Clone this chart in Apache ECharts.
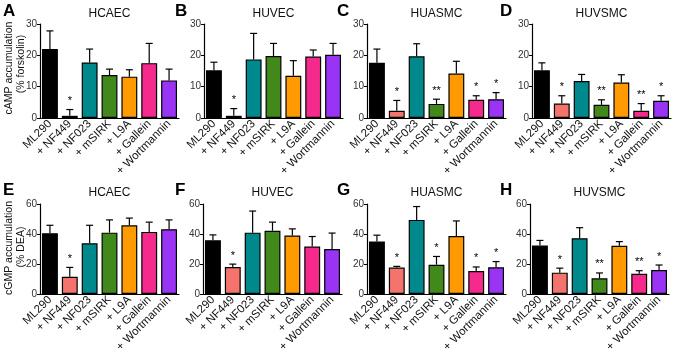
<!DOCTYPE html>
<html lang="en">
<head>
<meta charset="UTF-8">
<title>cAMP / cGMP accumulation</title>
<script src="https://cdn.jsdelivr.net/npm/echarts@6/dist/echarts.min.js"></script>
<style>
  html, body { margin: 0; padding: 0; background: #fff; }
</style>
</head>
<body>
<div id="main" style="width: 675px; height: 355px;"></div>
<script>
    // categories and bar colours
    var treatments = ['ML290', '+ NF449', '+ NF023', '+ mSIRK', '+ L9A', '+ Gallein', '+ Wortmannin'];
    var barColors = ['#000000', '#f4736d', '#00898c', '#41891a', '#ff9a00', '#f52a8c', '#9a34f5'];

    // cAMP (% forskolin) - mean, error, significance
    var aMean = [22.0, 0.7, 17.7, 13.7, 13.2, 17.5, 12.0];
    var aErr = [5.8, 2.0, 4.3, 1.9, 2.2, 6.3, 3.6];
    var aSig = ['', '*', '', '', '', '', ''];

    var bMean = [15.2, 0.7, 18.7, 19.8, 13.5, 19.6, 20.2];
    var bErr = [2.6, 2.3, 8.3, 4.0, 4.8, 2.1, 3.6];
    var bSig = ['', '*', '', '', '', '', ''];

    var cMean = [17.6, 2.3, 19.7, 4.5, 14.2, 5.8, 6.0];
    var cErr = [4.4, 3.3, 4.0, 1.5, 3.9, 1.3, 2.1];
    var cSig = ['', '*', '', '**', '', '*', '*'];

    var dMean = [15.2, 4.6, 11.8, 4.2, 11.3, 2.3, 5.5];
    var dErr = [2.4, 2.5, 2.1, 1.6, 2.5, 2.3, 1.6];
    var dSig = ['', '*', '', '**', '', '**', '*'];

    // cGMP (% DEA)
    var eMean = [40.5, 11.4, 33.8, 40.9, 45.8, 41.4, 43.2];
    var eErr = [5.3, 6.3, 12.0, 8.5, 4.8, 6.5, 6.2];
    var eSig = ['', '*', '', '', '', '', ''];

    var fMean = [35.8, 18.0, 40.9, 42.2, 39.0, 31.6, 29.9];
    var fErr = [3.6, 1.9, 14.4, 5.7, 4.4, 6.7, 10.7];
    var fSig = ['', '*', '', '', '', '', ''];

    var gMean = [35.0, 17.6, 49.4, 19.5, 38.6, 15.3, 17.8];
    var gErr = [4.2, 0.8, 8.9, 5.5, 10.1, 2.7, 3.8];
    var gSig = ['', '*', '', '*', '', '*', '*'];

    var hMean = [32.3, 14.2, 37.2, 10.4, 32.1, 13.4, 15.9];
    var hErr = [3.4, 3.0, 7.0, 3.6, 2.8, 2.1, 3.4];
    var hSig = ['', '*', '', '**', '', '**', '*'];

    var cellNames = ['HCAEC', 'HUVEC', 'HUASMC', 'HUVSMC', 'HCAEC', 'HUVEC', 'HUASMC', 'HUVSMC'];
    var panelLetters = ['A', 'B', 'C', 'D', 'E', 'F', 'G', 'H'];
    var yMaxTop = 30, yStepTop = 10;
    var yMaxBottom = 60, yStepBottom = 20;

    var means = [aMean, bMean, cMean, dMean, eMean, fMean, gMean, hMean];
    var errs = [aErr, bErr, cErr, dErr, eErr, fErr, gErr, hErr];
    var sigs = [aSig, bSig, cSig, dSig, eSig, fSig, gSig, hSig];

    var FONT = 'Arial, "Liberation Sans", sans-serif';
    var gridLefts = [40, 204, 367, 532, 40, 203, 367, 530];
    var gridW = 139;

    let myChart = echarts.init(document.getElementById('main'));

    var grids = [], xAxes = [], yAxes = [], series = [], graphics = [];
    for (let p = 0; p < 8; p++) {
        let top = p < 4;
        let gTop = top ? 24 : 204;
        let gH = top ? 94 : 95;
        grids.push({left: gridLefts[p], top: gTop, width: gridW, height: gH});
        xAxes.push({
            type: 'category',
            gridIndex: p,
            data: treatments,
            axisLine: {lineStyle: {color: '#000', width: 1.2}},
            axisTick: {alignWithLabel: true, length: 3, lineStyle: {color: '#000'}},
            axisLabel: {rotate: 45, fontSize: 11.5, color: '#111', margin: 4, fontFamily: FONT, interval: 0}
        });
        yAxes.push({
            type: 'value',
            gridIndex: p,
            min: 0,
            max: top ? yMaxTop : yMaxBottom,
            interval: top ? yStepTop : yStepBottom,
            splitLine: {show: false},
            axisLine: {show: true, lineStyle: {color: '#000', width: 1.2}},
            axisTick: {show: true, length: 3, lineStyle: {color: '#000'}},
            axisLabel: {fontSize: 10, color: '#333', margin: 3, fontFamily: FONT}
        });
        series.push({
            type: 'bar',
            xAxisIndex: p,
            yAxisIndex: p,
            barCategoryGap: '20%',
            data: means[p].map(function (v, i) {
                return {value: v, itemStyle: {color: barColors[i], borderColor: '#000', borderWidth: 1.2}};
            }),
            animation: false
        });
        let sig = sigs[p];
        // error bars + significance stars
        series.push({
            type: 'custom',
            xAxisIndex: p,
            yAxisIndex: p,
            z: 5,
            data: means[p].map(function (v, i) { return [i, v, errs[p][i]]; }),
            renderItem: function (params, api) {
                let x = api.value(0), m = api.value(1), e = api.value(2);
                let p0 = api.coord([x, m]);
                let p1 = api.coord([x, m + e]);
                let children = [
                    {type: 'line', shape: {x1: p0[0], y1: p0[1], x2: p1[0], y2: p1[1]},
                        style: {stroke: '#000', lineWidth: 1.2}},
                    {type: 'line', shape: {x1: p1[0] - 3.5, y1: p1[1], x2: p1[0] + 3.5, y2: p1[1]},
                        style: {stroke: '#000', lineWidth: 1.2}}
                ];
                let s = sig[params.dataIndex];
                if (s) {
                    children.push({type: 'text', x: p1[0], y: p1[1] - 3,
                        style: {text: s, fill: '#000', font: '11px ' + FONT,
                            textAlign: 'center', textVerticalAlign: 'bottom'}});
                }
                return {type: 'group', children: children};
            },
            animation: false
        });
        // title and panel letter
        graphics.push({type: 'text', x: gridLefts[p] + gridW / 2, y: top ? 14 : 193,
            style: {text: cellNames[p], fill: '#111', font: '12px ' + FONT,
                textAlign: 'center', textVerticalAlign: 'middle'}});
        let letterX = [3, 175, 337, 500][p % 4];
        graphics.push({type: 'text', x: letterX, y: top ? 11 : 190,
            style: {text: panelLetters[p], fill: '#000', font: 'bold 17px ' + FONT,
                textAlign: 'left', textVerticalAlign: 'middle'}});
    }

    // y axis names
    graphics.push({type: 'text', x: 9, y: 68, rotation: Math.PI / 2,
        style: {text: 'cAMP accumulation', fill: '#111', font: '10.5px ' + FONT, textAlign: 'center', textVerticalAlign: 'middle'}});
    graphics.push({type: 'text', x: 21, y: 64, rotation: Math.PI / 2,
        style: {text: '(% forskolin)', fill: '#111', font: '10.5px ' + FONT, textAlign: 'center', textVerticalAlign: 'middle'}});
    graphics.push({type: 'text', x: 9, y: 248, rotation: Math.PI / 2,
        style: {text: 'cGMP accumulation', fill: '#111', font: '10.5px ' + FONT, textAlign: 'center', textVerticalAlign: 'middle'}});
    graphics.push({type: 'text', x: 21, y: 247, rotation: Math.PI / 2,
        style: {text: '(% DEA)', fill: '#111', font: '10.5px ' + FONT, textAlign: 'center', textVerticalAlign: 'middle'}});

    myChart.setOption({
        animation: false,
        grid: grids,
        xAxis: xAxes,
        yAxis: yAxes,
        series: series,
        graphic: {elements: graphics}
    });
</script>
</body>
</html>
